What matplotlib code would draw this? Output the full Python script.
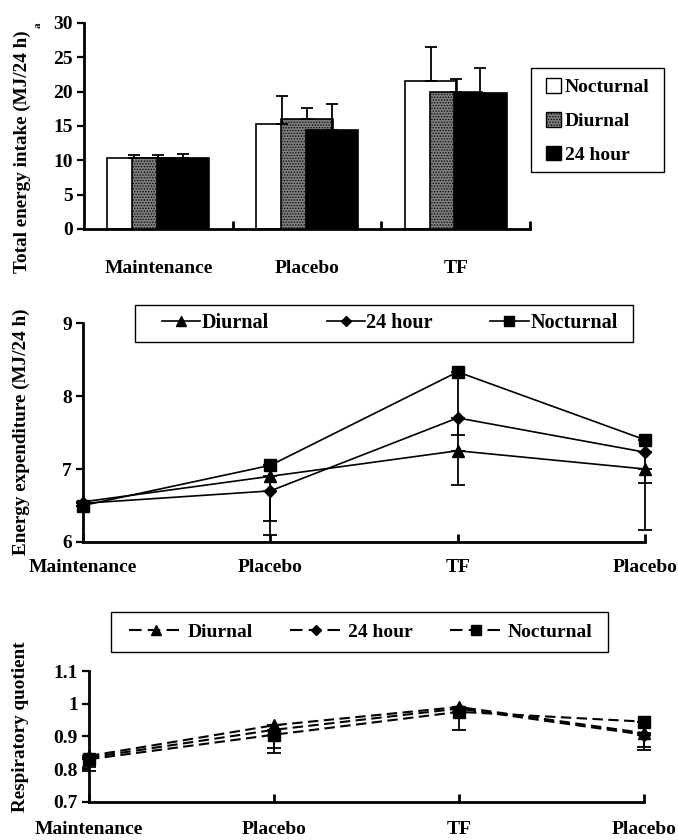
import matplotlib
matplotlib.use('Agg')
import matplotlib.pyplot as plt
import numpy as np
from matplotlib.lines import Line2D
from matplotlib.patches import Patch, Rectangle

plt.rcParams['font.family'] = ['Liberation Serif', 'DejaVu Serif']
plt.rcParams['font.weight'] = 'bold'
plt.rcParams['hatch.color'] = '#3a3a3a'
plt.rcParams['hatch.linewidth'] = 0.6

# ---------------- data ----------------
intake_groups = ['Maintenance', 'Placebo', 'TF']
intake_series = ['Nocturnal', 'Diurnal', '24 hour']
intake_nocturnal = [10.3, 15.25, 21.55]
intake_diurnal = [10.3, 16.0, 19.9]
intake_24h = [10.3, 14.4, 19.85]
intake_nocturnal_err = [0.5, 4.05, 5.0]
intake_diurnal_err = [0.5, 1.6, 2.0]
intake_24h_err = [0.6, 3.8, 3.65]
intake_yticks = [0, 5, 10, 15, 20, 25, 30]

phase_labels = ['Maintenance', 'Placebo', 'TF', 'Placebo']
line_series = ['Diurnal', '24 hour', 'Nocturnal']

ee_diurnal = [6.55, 6.90, 7.25, 7.00]
ee_24h = [6.53, 6.70, 7.70, 7.23]
ee_nocturnal = [6.50, 7.05, 8.33, 7.40]
ee_diurnal_err = [0, 0.61, 0, 0.84]
ee_24h_err = [0, 0.60, 0.23, 0.42]
ee_nocturnal_err = [0, 0, 1.55, 0]
ee_yticks = [6, 7, 8, 9]

rq_diurnal = [0.84, 0.934, 0.99, 0.91]
rq_24h = [0.835, 0.92, 0.985, 0.905]
rq_nocturnal = [0.83, 0.905, 0.975, 0.945]
rq_diurnal_err = [0.033, 0, 0, 0.042]
rq_24h_err = [0, 0.057, 0, 0.047]
rq_nocturnal_err = [0.036, 0.057, 0.055, 0]
rq_yticks = [0.7, 0.8, 0.9, 1.0, 1.1]
rq_yticklabels = ['0.7', '0.8', '0.9', '1', '1.1']

# ---------------- figure ----------------
W, H = 678, 840
fig = plt.figure(figsize=(W / 100, H / 100), dpi=100)

def px_axes(x0, y_top, x1, y_bot):
    return fig.add_axes([x0 / W, 1 - y_bot / H, (x1 - x0) / W, (y_bot - y_top) / H])

def px_frame(x0, y_top, x1, y_bot):
    fig.patches.append(Rectangle((x0 / W, 1 - y_bot / H), (x1 - x0) / W, (y_bot - y_top) / H,
                                 transform=fig.transFigure, facecolor='none',
                                 edgecolor='black', linewidth=1.0))

TICK_FS = 14
CAT_FS = 14
LAB_FS = 13.8
LEG_FS = 14
SPINE_LW = 2.0

def style_axes(ax):
    for s in ['top', 'right']:
        ax.spines[s].set_visible(False)
    for s in ['left', 'bottom']:
        ax.spines[s].set_linewidth(SPINE_LW)
    ax.tick_params(axis='y', direction='out', length=5, width=1.6, labelsize=TICK_FS, pad=3)

# ---- top: bar chart ----
ax1 = px_axes(84, 23, 530, 229)
style_axes(ax1)
x = np.arange(len(intake_groups))
bw = 0.35
off = 0.167
ax1.bar(x - off, intake_nocturnal, bw, color='white', edgecolor='black', linewidth=1.2, zorder=2)
ax1.bar(x, intake_diurnal, bw, color='#7d7d7d', edgecolor='black', linewidth=1.2, hatch='......', zorder=3)
ax1.bar(x + off, intake_24h, bw, color='black', edgecolor='black', linewidth=1.2, zorder=4)
for pos, vals, errs in [(x - off, intake_nocturnal, intake_nocturnal_err),
                        (x, intake_diurnal, intake_diurnal_err),
                        (x + off, intake_24h, intake_24h_err)]:
    ax1.errorbar(pos, vals, yerr=[np.zeros(len(errs)), errs], fmt='none', ecolor='black',
                 elinewidth=1.3, capsize=4, capthick=1.3, zorder=6)
ax1.set_xlim(-0.5, 2.5)
ax1.set_ylim(0, 30)
ax1.set_yticks(intake_yticks)
ax1.set_xticks(x)
ax1.set_xticklabels(intake_groups, fontsize=CAT_FS)
ax1.set_xticks([0.5, 1.5, 2.5], minor=True)
ax1.tick_params(axis='x', which='major', length=0, pad=22)
ax1.tick_params(axis='x', which='minor', direction='in', length=6, width=2)

px_frame(531, 68, 664, 172)
fig.legend(handles=[Patch(facecolor='white', edgecolor='black', linewidth=1.0),
                    Patch(facecolor='#7d7d7d', edgecolor='black', hatch='......', linewidth=1.0),
                    Patch(facecolor='black', edgecolor='black', linewidth=1.0)],
           labels=intake_series, loc='center left', bbox_to_anchor=(546 / W, 1 - 121 / H),
           fontsize=LEG_FS, frameon=False,
           handlelength=0.78, handleheight=0.78, handletextpad=0.2, labelspacing=0.8,
           borderpad=0, borderaxespad=0)

fig.text(22 / W, 1 - 152 / H, 'Total energy intake (MJ/24 h)', rotation=90,
         ha='center', va='center', fontsize=LAB_FS)
fig.text(38 / W, 1 - 25 / H, 'a', rotation=90, ha='center', va='center', fontsize=8)

# ---- line panels ----
markers = {'Diurnal': ('^', 9), '24 hour': ('D', 6.5), 'Nocturnal': ('s', 8.5)}

def line_panel(ax, series_vals, series_errs, ylim, yticks, yticklabels, dashes, lw, xpad):
    style_axes(ax)
    xs = np.arange(len(phase_labels))
    for name, vals, errs in zip(line_series, series_vals, series_errs):
        m, ms = markers[name]
        kw = dict(color='black', linewidth=lw, marker=m, markersize=ms, clip_on=False, zorder=4)
        if dashes is not None:
            kw['dashes'] = dashes
        ax.plot(xs, vals, **kw)
        ax.errorbar(xs, vals, yerr=[errs, np.zeros(len(errs))], fmt='none', ecolor='black',
                    elinewidth=1.3, capsize=5, capthick=1.3, zorder=3, clip_on=False)
    ax.set_xlim(0, len(phase_labels) - 1)
    ax.set_ylim(*ylim)
    ax.set_yticks(yticks)
    ax.set_yticklabels(yticklabels)
    ax.set_xticks(xs)
    ax.set_xticklabels(phase_labels, fontsize=CAT_FS)
    ax.tick_params(axis='x', direction='in', length=6, width=2, pad=xpad)

def line_handles(dashes, lw):
    hs = []
    for name in line_series:
        m, ms = markers[name]
        kw = dict(color='black', linewidth=lw, marker=m, markersize=ms * 0.85)
        if dashes is not None:
            kw['dashes'] = dashes
        hs.append(Line2D([], [], **kw))
    return hs

ax2 = px_axes(83, 323, 645, 542)
line_panel(ax2, [ee_diurnal, ee_24h, ee_nocturnal], [ee_diurnal_err, ee_24h_err, ee_nocturnal_err],
           (6, 9), ee_yticks, [str(v) for v in ee_yticks], None, 1.2, 12)
px_frame(135, 305, 633, 342)
fig.legend(handles=line_handles(None, 1.2), labels=line_series, ncol=3,
           loc='center left', bbox_to_anchor=(162 / W, 1 - 323.5 / H),
           fontsize=LEG_FS + 0.5, frameon=False,
           handlelength=1.9, handletextpad=0.08, columnspacing=2.85, borderpad=0, borderaxespad=0)
fig.text(21 / W, 1 - 432 / H, 'Energy expenditure (MJ/24 h)', rotation=90,
         ha='center', va='center', fontsize=LAB_FS)

ax3 = px_axes(89, 671, 644, 801.7)
line_panel(ax3, [rq_diurnal, rq_24h, rq_nocturnal], [rq_diurnal_err, rq_24h_err, rq_nocturnal_err],
           (0.7, 1.1), rq_yticks, rq_yticklabels, (5, 2.6), 1.5, 14)
px_frame(111, 612, 608, 652)
fig.legend(handles=line_handles((6, 3), 1.5), labels=line_series, ncol=3,
           loc='center left', bbox_to_anchor=(129 / W, 1 - 632 / H),
           fontsize=LEG_FS, frameon=False,
           handlelength=2.75, handletextpad=0.25, columnspacing=1.9, borderpad=0, borderaxespad=0)
fig.text(21 / W, 1 - 727 / H, 'Respiratory quotient', rotation=90,
         ha='center', va='center', fontsize=LAB_FS)

fig.savefig('out.png', dpi=100)
